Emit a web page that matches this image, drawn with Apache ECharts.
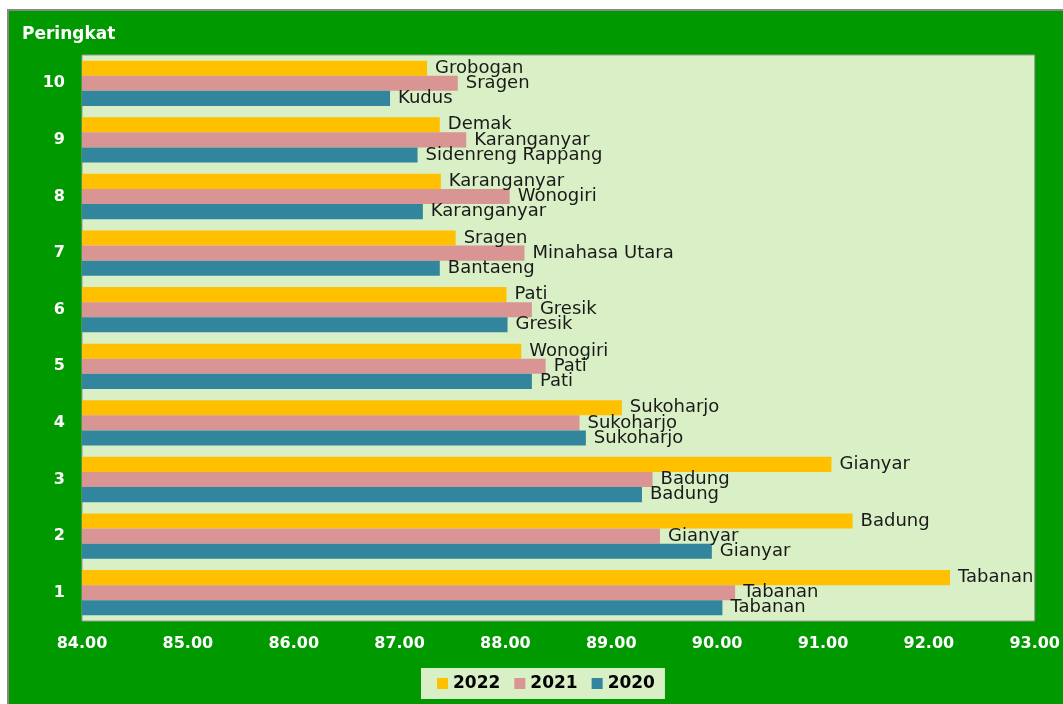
<!DOCTYPE html>
<html>
<head>
<meta charset="utf-8">
<script src="https://cdn.jsdelivr.net/npm/echarts@6/dist/echarts.min.js"></script>
<style>
  html, body { margin: 0; padding: 0; background: #ffffff; width: 1063px; height: 704px; overflow: hidden; }
  #frame { position: absolute; left: 7px; top: 9px; width: 1056px; height: 695px; background: #888888; }
  #chart { position: absolute; left: 9px; top: 11px; width: 1054px; height: 693px; }
</style>
</head>
<body>
<div id="frame"></div>
<div id="chart"></div>
<script>
const categories = ['1', '2', '3', '4', '5', '6', '7', '8', '9', '10'];
const seriesNames = ['2022', '2021', '2020'];
const values2022 = [92.20, 91.28, 91.08, 89.10, 88.15, 88.01, 87.53, 87.39, 87.38, 87.26];
const values2021 = [90.17, 89.46, 89.39, 88.70, 88.38, 88.25, 88.18, 88.04, 87.63, 87.55];
const values2020 = [90.05, 89.95, 89.29, 88.76, 88.25, 88.02, 87.38, 87.22, 87.17, 86.91];
const names2022 = ['Tabanan', 'Badung', 'Gianyar', 'Sukoharjo', 'Wonogiri', 'Pati', 'Sragen', 'Karanganyar', 'Demak', 'Grobogan'];
const names2021 = ['Tabanan', 'Gianyar', 'Badung', 'Sukoharjo', 'Pati', 'Gresik', 'Minahasa Utara', 'Wonogiri', 'Karanganyar', 'Sragen'];
const names2020 = ['Tabanan', 'Gianyar', 'Badung', 'Sukoharjo', 'Pati', 'Gresik', 'Bantaeng', 'Karanganyar', 'Sidenreng Rappang', 'Kudus'];
const xTicks = { min: 84, max: 93, interval: 1 };

const colors = ['#FFC000', '#D99594', '#31859C'];
const allValues = [values2022, values2021, values2020];
const allNames = [names2022, names2021, names2020];

const chart = echarts.init(document.getElementById('chart'));
const font = 'DejaVu Sans, Verdana, sans-serif';

chart.setOption({
  backgroundColor: '#009900',
  animation: false,
  textStyle: { fontFamily: font },
  grid: {
    left: 73, right: 26, top: 44, bottom: 83,
    show: true, backgroundColor: '#D9EFC5', borderColor: '#9a9a9a', borderWidth: 1
  },
  legend: {
    data: seriesNames,
    left: 412, top: 657,
    backgroundColor: '#D9EFC5',
    padding: [7, 10, 7, 16],
    itemWidth: 11, itemHeight: 11, itemGap: 14,
    icon: 'rect',
    textStyle: { color: '#000', fontWeight: 'bold', fontSize: 17, fontFamily: font }
  },
  xAxis: {
    type: 'value', min: xTicks.min, max: xTicks.max, interval: xTicks.interval,
    splitLine: { show: false },
    axisLine: { show: false }, axisTick: { show: false },
    axisLabel: { color: '#fff', fontWeight: 'bold', fontSize: 16, margin: 15, fontFamily: font,
      formatter: v => v.toFixed(2) }
  },
  yAxis: {
    type: 'category', data: categories,
    name: 'Peringkat', nameLocation: 'end', nameGap: 12,
    nameTextStyle: { color: '#fff', fontWeight: 'bold', fontSize: 17, align: 'left', padding: [0, 0, 0, -60], fontFamily: font },
    axisLine: { show: false }, axisTick: { show: false },
    axisLabel: { color: '#fff', fontWeight: 'bold', fontSize: 16, margin: 17, fontFamily: font }
  },
  series: seriesNames.map((n, i) => ({
    name: n, type: 'bar',
    data: allValues[i],
    itemStyle: { color: colors[i] },
    barGap: '0%', barCategoryGap: '20%',
    label: {
      show: true, position: 'right', distance: 8,
      color: '#1a1a1a', fontSize: 18, fontFamily: font,
      formatter: p => allNames[i][p.dataIndex]
    }
  }))
});
</script>
</body>
</html>
